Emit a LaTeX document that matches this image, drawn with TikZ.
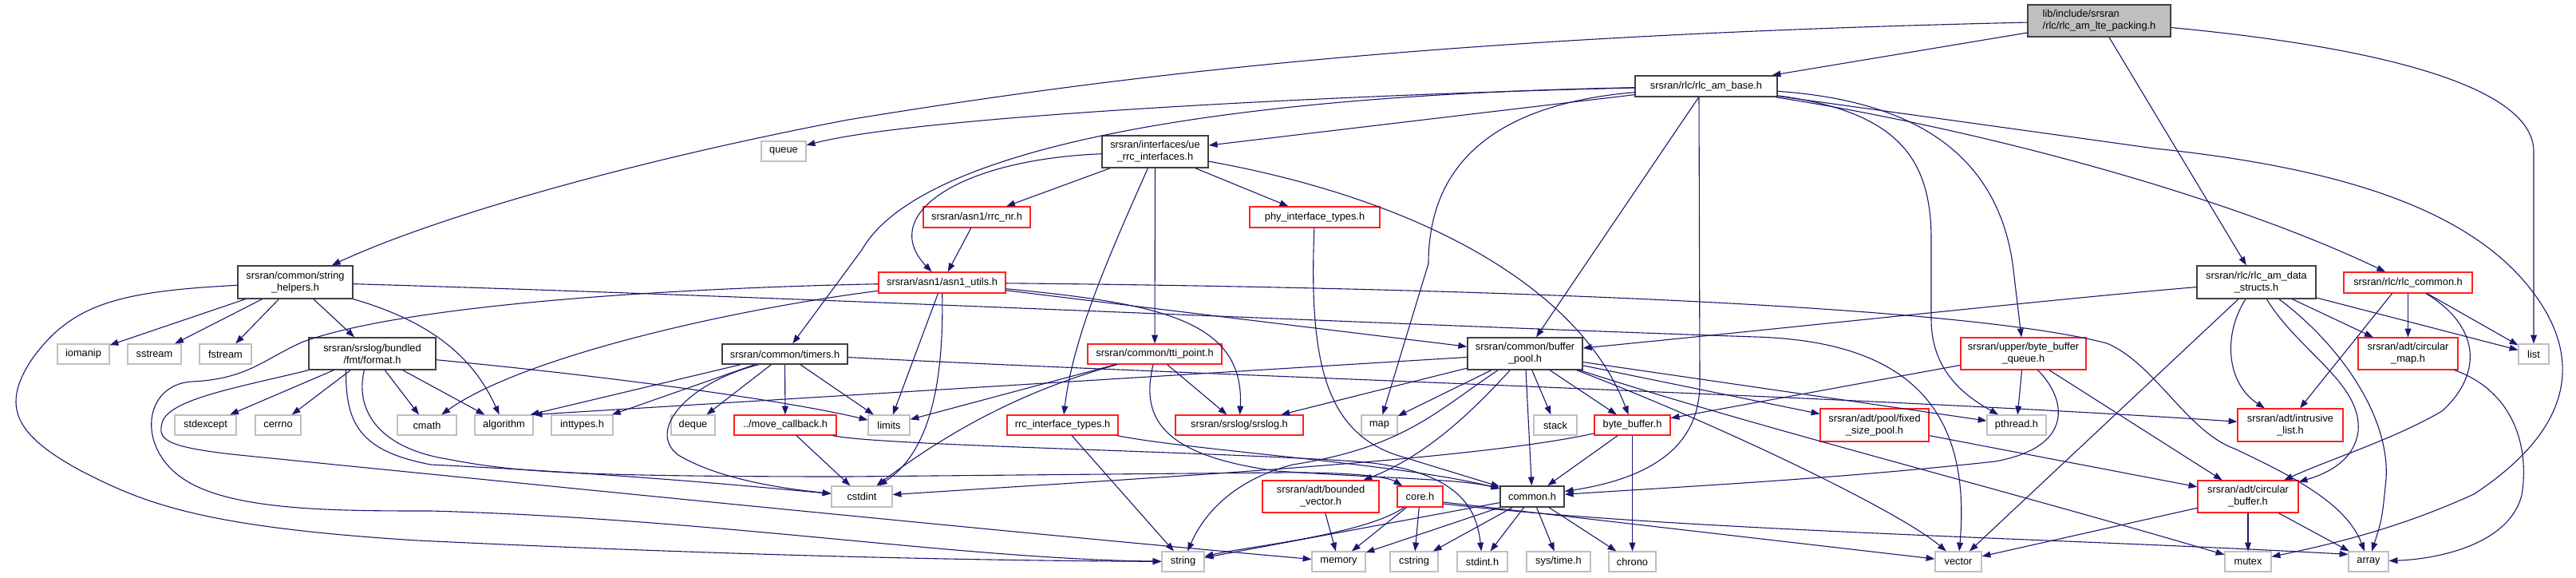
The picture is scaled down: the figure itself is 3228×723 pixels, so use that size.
\documentclass[tikz,border=0pt]{standalone}
\usepackage{fontspec}
\setmainfont{Liberation Sans}
\usetikzlibrary{arrows.meta,calc}
\definecolor{edgec}{HTML}{191970}
\definecolor{rootfill}{HTML}{BFBFBF}
\definecolor{sysc}{HTML}{BFBFBF}
\definecolor{nbc}{HTML}{404040}
\definecolor{redc}{HTML}{FF2020}
\newcommand{\nodefont}{\fontsize{6.4}{7.5}\selectfont}
\begin{document}
\begin{tikzpicture}[x=0.5pt,y=-0.5pt,
  nblk/.style={draw=nbc,line width=0.75pt,fill=white,inner sep=0pt,font=\nodefont,align=center,text=black},
  nred/.style={draw=redc,line width=0.6pt,fill=white,inner sep=0pt,font=\nodefont,align=center,text=black},
  nsys/.style={draw=sysc,line width=0.6pt,fill=white,inner sep=0pt,font=\nodefont,align=center,text=black},
  hA/.style={minimum height=12.5pt},
  hB/.style={minimum height=13pt},
  hC/.style={minimum height=20pt},
  hD/.style={minimum height=20.5pt},
  dep/.style={draw=edgec,line width=0.55pt,-{Triangle[length=5.4pt,width=3.9pt]}}]
\useasboundingbox (0,0) rectangle (3228,723);
\fill[white] (0,0) rectangle (3228,723);

% ---------- nodes ----------
\node[nblk,hC,minimum width=89.5pt,fill=rootfill,align=left] (root) at (2630.5,26) {lib/include/srsran\\/rlc/rlc\_am\_lte\_packing.h};
\node[nblk,hB,minimum width=89pt] (base) at (2138,108) {srsran/rlc/rlc\_am\_base.h};
\node[nsys,hA,minimum width=28pt] (queue) at (982,189.5) {queue};
\node[nblk,hC,minimum width=66.5pt] (uerrc) at (1447.5,190) {srsran/interfaces/ue\\\_rrc\_interfaces.h};
\node[nblk,hD,minimum width=72pt] (strh) at (370,353.5) {srsran/common/string\\\_helpers.h};
\node[nred,hB,minimum width=67pt] (rrcnr) at (1224,272) {srsran/asn1/rrc\_nr.h};
\node[nred,hB,minimum width=81.5pt] (phy) at (1647.5,272) {phy\_interface\_types.h};
\node[nred,hB,minimum width=79.5pt] (asn1) at (1180.5,354) {srsran/asn1/asn1\_utils.h};
\node[nblk,hD,minimum width=74.5pt] (ds) at (2827.5,353.5) {srsran/rlc/rlc\_am\_data\\\_structs.h};
\node[nred,hB,minimum width=80.5pt] (rlccommon) at (3017.5,354) {srsran/rlc/rlc\_common.h};

\node[nsys,hA,minimum width=32.5pt] (iomanip) at (104.5,443.5) {iomanip};
\node[nsys,hA,minimum width=33.5pt] (sstream) at (193.5,443.5) {sstream};
\node[nsys,hA,minimum width=32.5pt] (fstream) at (282.5,443.5) {fstream};
\node[nblk,hC,minimum width=79.5pt] (format) at (466.5,443) {srsran/srslog/bundled\\/fmt/format.h};
\node[nblk,hA,minimum width=78.5pt] (timers) at (983.5,443.5) {srsran/common/timers.h};
\node[nred,hA,minimum width=84pt] (tti) at (1447,443.5) {srsran/common/tti\_point.h};
\node[nblk,hC,minimum width=72pt] (bpool) at (1911,443) {srsran/common/buffer\\\_pool.h};
\node[nred,hC,minimum width=78.5pt] (bbq) at (2535.5,443) {srsran/upper/byte\_buffer\\\_queue.h};
\node[nred,hC,minimum width=62.5pt] (cmap) at (3017.5,443) {srsran/adt/circular\\\_map.h};
\node[nsys,hA,minimum width=19pt] (list) at (3175,443.5) {list};

\node[nsys,hA,minimum width=38.5pt] (stdexcept) at (257.5,532.5) {stdexcept};
\node[nsys,hA,minimum width=28.5pt] (cerrno) at (348.5,532.5) {cerrno};
\node[nsys,hA,minimum width=37pt] (cmath) at (535,532.5) {cmath};
\node[nsys,hA,minimum width=36.5pt] (algorithm) at (631.5,532.5) {algorithm};
\node[nsys,hA,minimum width=38.5pt] (inttypes) at (729.5,532.5) {inttypes.h};
\node[nsys,hA,minimum width=27.5pt] (deque) at (868.5,532.5) {deque};
\node[nred,hA,minimum width=64pt] (movecb) at (984,532.5) {../move\_callback.h};
\node[nsys,hA,minimum width=26pt] (limits) at (1114,532.5) {limits};
\node[nred,hA,minimum width=69.5pt] (rrcit) at (1331.5,532.5) {rrc\_interface\_types.h};
\node[nred,hA,minimum width=80pt] (srslog) at (1553,532.5) {srsran/srslog/srslog.h};
\node[nsys,hA,minimum width=22.5pt] (map) at (1728.5,532.5) {map};
\node[nsys,hA,minimum width=27pt] (stack) at (1949,532.5) {stack};
\node[nred,hA,minimum width=47.5pt] (bytebuf) at (2045.5,532.5) {byte\_buffer.h};
\node[nred,hD,minimum width=68pt] (fsp) at (2349,532.5) {srsran/adt/pool/fixed\\\_size\_pool.h};
\node[nsys,hA,minimum width=37pt] (pthread) at (2527,532.5) {pthread.h};
\node[nred,hD,minimum width=66pt] (ilist) at (2870,532.5) {srsran/adt/intrusive\\\_list.h};

\node[nsys,hB,minimum width=38pt] (cstdint) at (1080,622) {cstdint};
\node[nred,hC,minimum width=73pt] (bvec) at (1655,622) {srsran/adt/bounded\\\_vector.h};
\node[nred,hB,minimum width=28.5pt] (core) at (1779.5,622) {core.h};
\node[nblk,hB,minimum width=40pt] (common) at (1920,622) {common.h};
\node[nred,hC,minimum width=63pt] (cbuf) at (2817,622) {srsran/adt/circular\\\_buffer.h};

\node[nsys,hA,minimum width=26.5pt] (string) at (1482.5,703.5) {string};
\node[nsys,hA,minimum width=33.5pt] (memory) at (1677.5,703.5) {memory};
\node[nsys,hA,minimum width=30pt] (cstring) at (1772,703.5) {cstring};
\node[nsys,hA,minimum width=31.5pt] (stdinth) at (1857.5,703.5) {stdint.h};
\node[nsys,hA,minimum width=40pt] (systime) at (1953,703.5) {sys/time.h};
\node[nsys,hA,minimum width=29.5pt] (chrono) at (2045.5,703.5) {chrono};
\node[nsys,hA,minimum width=29pt] (vector) at (2454,703.5) {vector};
\node[nsys,hA,minimum width=29pt] (mutex) at (2817,703.5) {mutex};
\node[nsys,hA,minimum width=25pt] (array) at (2968,703.5) {array};

% ---------- edges ----------
% root
\draw[dep] (root) -- (base);
\draw[dep] (root) .. controls (1800,45) and (1400,95) .. (1063,150) .. controls (800,200) and (550,270) .. (strh);
\draw[dep] (root) -- (ds);
\draw[dep] (root) .. controls (2990,60) and (3175,110) .. (3175,190) -- (list);

% rlc_am_base
\draw[dep] (base) .. controls (1700,118) and (1150,145) .. (queue);
\draw[dep] (base) -- (uerrc);
\draw[dep] (base) .. controls (1500,120) and (1150,190) .. (1080,313) -- (timers);
\draw[dep] (base) .. controls (1880,130) and (1790,200) .. (1790,330) -- (map);
\draw[dep] (base) -- (bpool);
\draw[dep] ($(base.south)+(-9,0)$) -- (2130,480) .. controls (2130,565) and (2060,600) .. (common);
\draw[dep] (base) .. controls (2380,140) and (2420,200) .. (2420,300) -- (2420,400) .. controls (2420,470) and (2470,500) .. (pthread);
\draw[dep] (base) .. controls (2380,125) and (2500,180) .. (2522,330) -- (bbq);
\draw[dep] (base) .. controls (2500,165) and (2800,250) .. (rlccommon);
\draw[dep] (base) -- (2700,186) .. controls (2950,212) and (3120,270) .. (3190,390) .. controls (3230,460) and (3220,540) .. (3100,619) .. controls (3010,660) and (2930,680) .. (mutex);

% ue_rrc_interfaces
\draw[dep] (uerrc) -- (rrcnr);
\draw[dep] (uerrc) -- (phy);
\draw[dep] (uerrc) .. controls (1200,200) and (1100,270) .. (asn1);
\draw[dep] (uerrc) .. controls (1390,320) and (1345,420) .. (rrcit);
\draw[dep] (uerrc) -- (tti);
\draw[dep] (uerrc) .. controls (1780,250) and (1980,360) .. (bytebuf);
\draw[dep] (rrcnr) -- (asn1);
\draw[dep] (phy) .. controls (1640,450) and (1660,540) .. (1750,570) -- (common);

% string_helpers
\draw[dep] (strh) -- (iomanip);
\draw[dep] (strh) -- (sstream);
\draw[dep] (strh) -- (fstream);
\draw[dep] (strh) -- (format);
\draw[dep] (strh) .. controls (530,400) and (590,440) .. (algorithm);
\draw[dep] (strh) .. controls (150,365) and (90,380) .. (40,450) .. controls (0,510) and (20,545) .. (100,589) .. controls (180,630) and (250,660) .. (523,677) .. controls (900,695) and (1200,702) .. (string);
\draw[dep] (strh) .. controls (1000,372) and (1700,405) .. (2200,422) .. controls (2400,428) and (2470,520) .. (vector);

% asn1_utils
\draw[dep] (asn1) -- (bpool);
\draw[dep] (asn1) .. controls (1800,360) and (2450,380) .. (2640,430) .. controls (2700,455) and (2740,540) .. (2800,562) .. controls (2870,595) and (2940,630) .. (array);
\draw[dep] (asn1) .. controls (1450,380) and (1560,400) .. (srslog);
\draw[dep] (asn1) -- (limits);
\draw[dep] (asn1) .. controls (1182,450) and (1175,560) .. (cstdint);
\draw[dep] (asn1) .. controls (900,390) and (650,450) .. (cmath);
\draw[dep] (asn1) .. controls (800,362) and (500,385) .. (380,428) .. controls (330,450) and (310,475) .. (240,478) .. controls (180,482) and (170,560) .. (230,600) .. controls (290,640) and (420,640) .. (540,640) .. controls (900,650) and (1200,700) .. (string);

% format.h
\draw[dep] (format) -- (stdexcept);
\draw[dep] (format) -- (cerrno);
\draw[dep] (format) -- (cmath);
\draw[dep] (format) -- (algorithm);
\draw[dep] (format) .. controls (800,475) and (1000,505) .. (limits);
\draw[dep] ($(format.south)+(-33,0)$) .. controls (433,530) and (450,565) .. (540,582) .. controls (800,595) and (950,610) .. (cstdint);
\draw[dep] ($(format.south)+(-10,0)$) .. controls (445,510) and (470,560) .. (560,575) .. controls (640,590) and (700,597) .. (1063,597) -- (1600,592) .. controls (1700,591) and (1740,598) .. (core);
\draw[dep] (format.south west) .. controls (300,485) and (210,500) .. (203,530) .. controls (198,550) and (205,560) .. (300,570) .. controls (800,620) and (1300,670) .. (memory);

% timers.h
\draw[dep] (timers) -- ($(algorithm.north east)+(-4,0)$);
\draw[dep] (timers) -- (inttypes);
\draw[dep] ($(timers.south)+(-33,0)$) .. controls (860,480) and (810,540) .. (850,570) .. controls (900,600) and (980,612) .. (cstdint);
\draw[dep] (timers) -- (deque);
\draw[dep] (timers) -- (movecb);
\draw[dep] (timers) -- (limits);
\draw[dep] (timers) .. controls (1500,470) and (2300,495) .. (ilist);

% move_callback, rrc_interface_types, tti_point
\draw[dep] (movecb) -- (cstdint);
\draw[dep] (movecb) .. controls (1100,558) and (1500,565) .. (1700,578) .. controls (1820,588) and (1850,630) .. (stdinth);
\draw[dep] (rrcit) -- (string);
\draw[dep] (rrcit) .. controls (1500,565) and (1750,580) .. (common);
\draw[dep] (tti) -- (srslog);
\draw[dep] (tti) -- (limits);
\draw[dep] (tti) .. controls (1280,490) and (1190,540) .. (cstdint);
\draw[dep] ($(tti.south)+(-2,0)$) .. controls (1430,520) and (1450,570) .. (1600,590) .. controls (1750,600) and (1830,600) .. (common);

% buffer_pool.h
\draw[dep] (bpool) -- (algorithm.north east);
\draw[dep] (bpool) -- (map);
\draw[dep] (bpool) -- (srslog);
\draw[dep] (bpool) .. controls (1850,510) and (1790,570) .. (bvec);
\draw[dep] (bpool) -- (stack);
\draw[dep] (bpool) -- (common);
\draw[dep] (bpool) -- (bytebuf);
\draw[dep] (bpool) -- (pthread);
\draw[dep] (bpool) -- (fsp);
\draw[dep] ($(bpool.south east)+(-8,0)$) .. controls (2150,530) and (2380,640) .. (vector);
\draw[dep] ($(bpool.south east)+(-4,0)$) .. controls (2200,535) and (2500,610) .. (mutex);
\draw[dep] ($(bpool.south)+(-34,0)$) .. controls (1800,515) and (1760,560) .. (1620,582) .. controls (1550,600) and (1510,640) .. (string);

% byte_buffer.h
\draw[dep] (bytebuf) -- (common);
\draw[dep] (bytebuf) -- (chrono);
\draw[dep] (bytebuf) .. controls (1850,575) and (1500,595) .. (cstdint);

% byte_buffer_queue.h
\draw[dep] (bbq) -- (bytebuf);
\draw[dep] (bbq) -- (pthread);
\draw[dep] ($(bbq.south)+(18,0)$) .. controls (2590,500) and (2600,560) .. (2500,578) .. controls (2300,600) and (2100,610) .. (common);
\draw[dep] (bbq) -- (cbuf);
\draw[dep] (fsp) -- (cbuf);

% rlc_am_data_structs.h
\draw[dep] (ds) .. controls (2600,372) and (2200,415) .. (bpool);
\draw[dep] (ds) -- (vector);
\draw[dep] (ds) .. controls (2785,420) and (2790,480) .. (ilist);
\draw[dep] (ds) .. controls (2880,440) and (2960,480) .. (2955,540) .. controls (2950,580) and (2910,595) .. (cbuf);
\draw[dep] (ds) .. controls (2930,430) and (2995,520) .. (2990,600) .. controls (2985,650) .. (array);
\draw[dep] (ds) -- (cmap);
\draw[dep] (ds) -- (list);

% rlc_common.h
\draw[dep] ($(rlccommon.south)+(-20,0)$) -- ($(ilist.north)+(12,0)$);
\draw[dep] (rlccommon) -- (cmap);
\draw[dep] (rlccommon) -- (list);
\draw[dep] (rlccommon) .. controls (3110,410) and (3110,470) .. (3060,515) .. controls (3000,550) and (2920,575) .. (cbuf);

% circular_map, circular_buffer
\draw[dep] (cmap) .. controls (3150,490) and (3170,560) .. (3160,620) .. controls (3145,680) and (3060,700) .. (array);
\draw[dep] (cbuf) -- (mutex);
\draw[dep] (cbuf) -- (array);
\draw[dep] (cbuf) -- (vector);

% core.h
\draw[dep] (core) -- (memory);
\draw[dep] (core) -- (cstring);
\draw[dep] ($(core.south)+(-20,0)$) .. controls (1710,670) and (1560,685) .. (string);
\draw[dep] ($(core.east)+(0,7)$) -- (vector);
\draw[dep] ($(core.east)+(0,9)$) .. controls (2100,665) and (2600,675) .. ($(array.north west)+(0,4)$);

% common.h
\draw[dep] (common) -- (memory);
\draw[dep] (common) -- (cstring);
\draw[dep] (common) -- (stdinth);
\draw[dep] (common) -- (systime);
\draw[dep] (common) -- (chrono);
\draw[dep] (common) -- (string);

% bounded_vector.h
\draw[dep] (bvec) -- (memory);
\end{tikzpicture}
\end{document}
